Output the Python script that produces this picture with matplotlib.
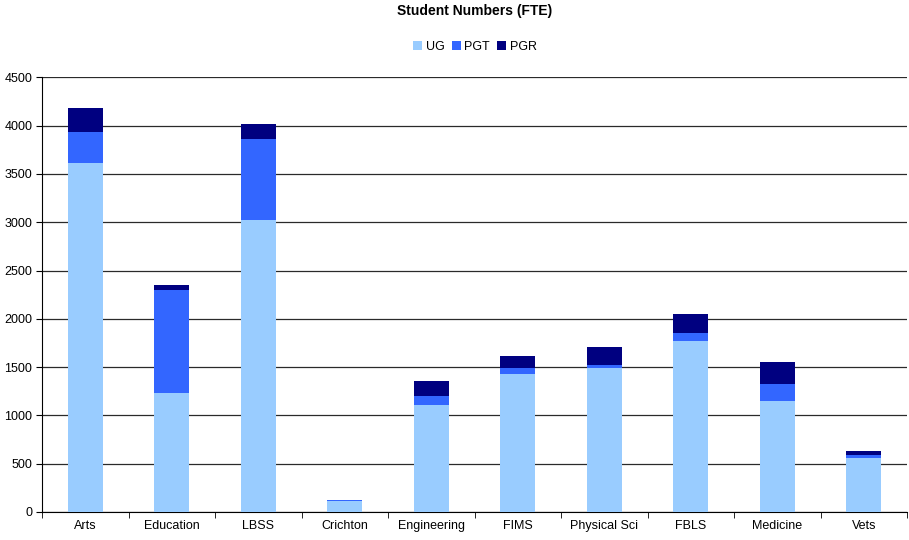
import matplotlib
matplotlib.use("Agg")
import matplotlib.pyplot as plt
import numpy as np

faculties = ["Arts", "Education", "LBSS", "Crichton", "Engineering", "FIMS",
             "Physical Sci", "FBLS", "Medicine", "Vets"]
ug = [3613, 1233, 3020, 110, 1105, 1426, 1489, 1768, 1147, 556]
pgt = [321, 1064, 840, 12, 93, 63, 31, 83, 176, 31]
pgr = [248, 52, 156, 2, 156, 124, 186, 197, 228, 42]
y_ticks = [0, 500, 1000, 1500, 2000, 2500, 3000, 3500, 4000, 4500]

plt.rcParams["font.family"] = ["Liberation Sans", "DejaVu Sans"]

fig = plt.figure(figsize=(9.09, 5.40), dpi=100)
ax = fig.add_axes([42 / 909, 1 - 512 / 540, (907 - 42) / 909, (512 - 77.3) / 540])

x = np.arange(len(faculties))
w = 0.4
ug_a = np.array(ug)
pgt_a = np.array(pgt)
pgr_a = np.array(pgr)
ax.bar(x, ug_a, w, color="#99CCFF", label="UG", zorder=3)
ax.bar(x, pgt_a, w, bottom=ug_a, color="#3366FF", label="PGT", zorder=3)
ax.bar(x, pgr_a, w, bottom=ug_a + pgt_a, color="#000080", label="PGR", zorder=3)

ax.set_xlim(-0.5, len(faculties) - 0.5)
ax.set_ylim(0, 4500)
ax.set_yticks(y_ticks)
ax.set_yticklabels([str(t) for t in y_ticks], fontsize=9)
ax.set_xticks(x)
ax.set_xticklabels(faculties, fontsize=9)
ax.tick_params(axis="x", length=0, pad=6)
ax.set_xticks(np.arange(len(faculties) + 1) - 0.5, minor=True)
ax.tick_params(axis="x", which="minor", length=4, direction="out", color="#000000")
ax.tick_params(axis="y", length=4, direction="out", pad=3)

ax.yaxis.grid(True, color="#2a2a2a", linewidth=0.9, zorder=0)
for side in ["top", "right"]:
    ax.spines[side].set_visible(False)
ax.spines["left"].set_color("#000000")
ax.spines["bottom"].set_color("#000000")

fig.text(0.5 * (42 + 907) / 909, 1 - 10.5 / 540, "Student Numbers (FTE)", ha="center", va="center",
         fontsize=10, fontweight="bold")
fig.legend(loc="center", bbox_to_anchor=(475 / 909, 1 - 47 / 540), ncol=3, frameon=False,
           fontsize=9, handlelength=0.7, handleheight=0.7, handletextpad=0.3, columnspacing=0.6)

fig.savefig("out.png", dpi=100)
